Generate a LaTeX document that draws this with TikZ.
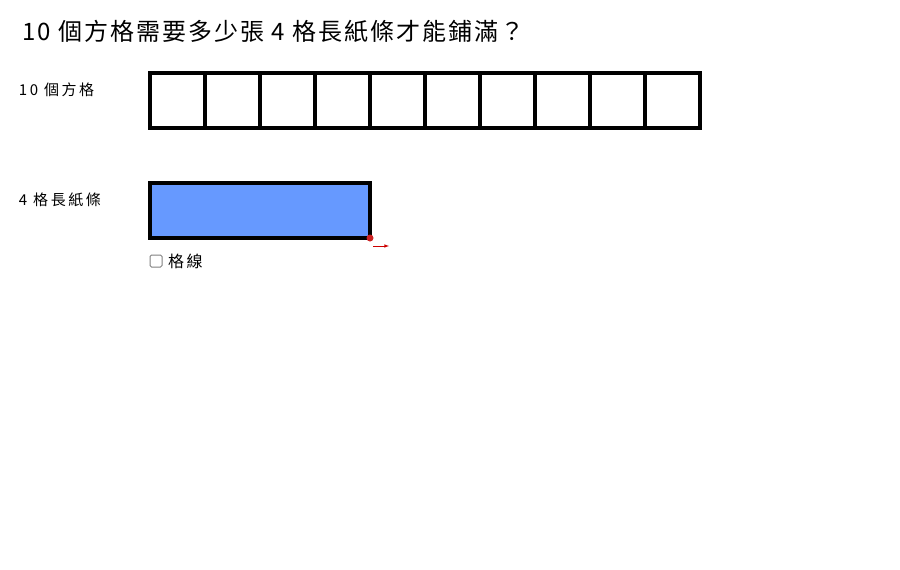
\documentclass[tikz,border=0pt]{standalone}
\usepackage{fontspec}
\setmainfont{Noto Sans CJK TC}
\newfontfamily\titlefont[LetterSpace=8.5]{Noto Sans CJK TC}
\newfontfamily\labelfont[LetterSpace=17]{Noto Sans CJK TC}
\tikzset{>=latex,every node/.style={inner sep=0pt,outer sep=0pt,font=\labelfont\fontsize{15}{18}\selectfont}}

\begin{document}
\begin{tikzpicture}[x=1pt,y=-1pt]
    \useasboundingbox (0,0) rectangle (900,570);
    \node[anchor=base west,font=\titlefont\fontsize{24}{28}\selectfont] (title) at (22,40) {10 個方格需要多少張 4 格長紙條才能鋪滿？};

    \node[anchor=base west] (label10) at (19,95) {10 個方格};
    \foreach \i in {0,...,9}{
    	     \node[draw,line width=3.2pt,minimum size=55pt,anchor=north west] (cell\i) at (150+55*\i,73) {};
    }

    \node[anchor=base west] (label4) at (19,205) {4 格長紙條};
    \node[draw,line width=3.2pt,fill={rgb,255:red,102;green,153;blue,255},minimum width=220pt,minimum height=55pt,anchor=north west] (strip) at (150,183) {};
    \node[circle,fill={rgb,255:red,204;green,34;blue,34},minimum size=7pt] (dot) at (strip.south east) {};
    \coordinate (tail) at (373,246);
    \coordinate (head) at (389,246);
    \draw[->,red!80!black,line width=0.6pt] (tail) -- (head);

    \node[draw=gray,rounded corners=1.5pt,line width=1pt,minimum size=12pt,anchor=north west] (box) at (150,255) {};
    \node[anchor=west,font=\labelfont\fontsize{16}{18}\selectfont] (gridlines) at ([xshift=6pt]box.east) {格線};
\end{tikzpicture}
\end{document}
